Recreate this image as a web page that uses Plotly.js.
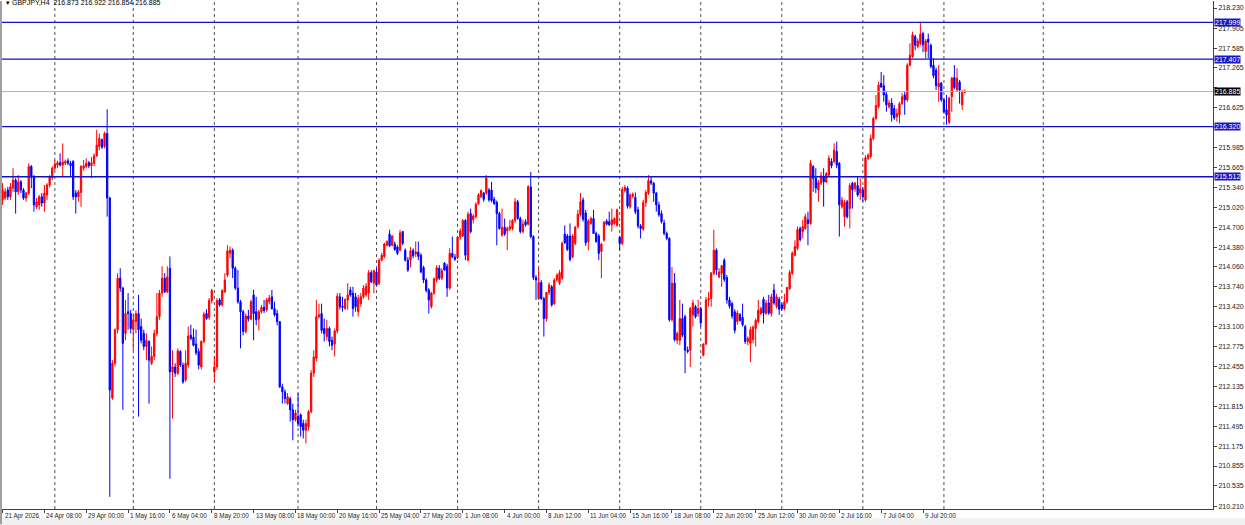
<!DOCTYPE html>
<html><head><meta charset="utf-8">
<script src="https://cdn.plot.ly/plotly-3.0.1.min.js"></script>
<style>html,body{margin:0;padding:0;background:#fff;}#chart{width:1245px;height:525px;}</style>
</head><body><div id="chart"></div>
<script>
const symbolTitle = "GBPJPY,H4";
const lastQuote = [216.873, 216.922, 216.854, 216.885];

const open = [
215.14,215.17,215.30,215.19,215.33,215.46,215.27,215.43,215.30,215.17,
215.25,215.68,215.51,215.03,215.06,215.19,215.09,215.22,215.38,215.50,
215.65,215.70,215.74,215.70,215.73,215.77,215.73,215.76,215.25,215.19,
215.26,215.65,215.68,215.74,215.69,215.73,215.85,216.00,216.11,216.00,
216.21,215.17,211.95,212.51,213.05,213.88,213.72,212.99,213.34,213.31,
213.05,213.18,213.31,213.10,212.99,212.78,212.86,212.51,212.62,212.99,
213.26,213.64,213.88,213.66,214.04,212.37,212.45,212.35,212.70,212.48,
212.24,212.48,212.96,212.93,212.82,212.70,212.45,212.86,213.31,213.25,
213.52,212.37,212.45,213.53,213.45,213.66,213.93,214.28,214.33,214.04,
213.72,213.50,213.34,213.02,213.27,213.22,213.61,213.34,213.22,213.34,
213.41,213.37,213.50,213.58,213.39,213.31,213.18,212.13,212.05,211.86,
211.94,211.76,211.60,211.65,211.68,211.54,211.43,211.49,211.73,212.35,
212.59,213.26,213.31,213.07,212.94,213.07,212.88,212.82,213.03,213.58,
213.43,213.39,213.53,213.69,213.64,213.58,213.34,213.47,213.58,213.61,
213.64,213.97,213.80,213.98,213.80,214.17,214.23,214.41,214.59,214.41,
214.43,214.38,214.33,214.63,214.33,214.17,214.17,214.33,214.27,214.30,
214.25,214.05,213.85,213.69,213.42,213.64,213.85,214.04,213.88,214.12,
214.07,213.72,214.28,214.22,214.21,214.54,214.56,214.81,214.17,214.92,
214.82,214.87,215.08,215.19,215.25,215.25,215.30,215.30,215.15,215.10,
214.92,214.57,214.70,214.64,214.67,214.68,214.81,215.11,214.84,214.63,
214.79,214.75,215.35,214.55,213.89,213.55,213.81,213.55,213.23,213.65,
213.74,213.47,213.85,213.80,213.88,214.59,214.56,214.56,214.22,214.44,
214.71,214.90,215.14,214.93,214.47,214.76,214.84,214.60,214.56,214.31,
214.49,214.80,214.79,214.74,214.76,214.73,214.54,214.44,215.29,215.33,
215.03,215.20,215.18,214.98,214.72,214.67,215.10,215.25,215.45,215.41,
215.25,215.06,214.92,214.77,214.60,214.52,213.21,213.80,212.88,212.88,
213.23,213.26,212.72,212.72,213.29,213.42,213.31,213.39,212.64,212.82,
213.53,213.55,213.96,214.33,213.90,213.96,214.17,213.89,213.53,213.47,
213.34,213.18,213.29,213.25,213.10,212.86,212.83,212.89,213.07,213.18,
213.31,213.54,213.31,213.48,213.31,213.69,213.42,213.54,213.45,213.39,
213.50,213.71,213.96,214.25,214.36,214.68,214.63,214.68,214.82,214.76,
215.68,215.49,215.30,215.41,215.51,215.43,215.54,215.76,215.76,215.92,
215.73,215.03,214.87,215.11,215.00,215.41,215.32,215.37,215.25,215.30,
215.14,215.81,215.84,216.13,216.45,216.64,217.02,216.98,216.84,216.64,
216.70,216.61,216.48,216.51,216.69,216.83,216.75,217.31,217.45,217.77,
217.61,217.66,217.82,217.53,217.73,217.63,217.31,217.23,216.96,217.02,
216.75,216.59,216.39,216.80,217.11,216.91,217.04,216.67,216.873];

const high = [
215.41,215.33,215.35,215.41,215.65,215.49,215.54,215.46,215.33,215.27,
215.73,215.70,215.54,215.17,215.22,215.25,215.38,215.41,215.54,215.68,
215.78,215.77,215.89,216.05,215.79,215.81,215.77,215.78,215.30,215.30,
215.70,215.78,215.81,215.77,215.83,215.89,216.27,216.21,216.13,216.24,
216.60,215.19,212.56,213.07,213.96,214.04,213.74,213.53,213.64,213.37,
213.31,213.36,213.61,213.23,213.05,212.99,212.88,212.78,213.05,213.64,
213.69,214.07,213.96,214.07,214.23,212.72,212.51,212.75,212.72,212.52,
212.72,213.10,213.13,213.07,213.05,212.75,212.88,213.34,213.38,213.56,
213.71,212.62,213.56,213.56,213.70,213.96,214.41,214.39,214.36,214.07,
214.01,213.53,213.37,213.31,213.37,213.53,213.69,213.58,213.37,213.45,
213.53,213.56,213.61,213.69,213.50,213.37,213.19,212.18,212.09,212.03,
211.97,211.86,211.76,212.03,211.70,211.60,211.60,211.76,212.40,212.72,
213.53,213.47,213.47,213.23,213.21,213.10,212.94,213.07,213.64,213.64,
213.58,213.55,213.80,213.74,213.74,213.64,213.61,213.64,213.77,213.80,
214.01,214.01,214.02,214.04,214.20,214.29,214.45,214.49,214.66,214.57,
214.47,214.41,214.66,214.64,214.36,214.22,214.38,214.36,214.47,214.47,
214.28,214.08,213.88,213.72,213.66,213.89,214.09,214.09,214.04,214.14,
214.11,214.36,214.55,214.27,214.56,214.68,214.83,214.83,214.95,215.00,
214.91,215.10,215.25,215.31,215.27,215.54,215.33,215.43,215.19,215.13,
214.95,215.00,214.84,214.71,214.82,214.83,215.17,215.14,214.87,214.82,
214.83,215.38,215.59,214.57,213.93,214.04,213.85,213.58,213.66,213.81,
213.77,213.88,213.96,214.01,214.47,214.73,214.59,214.76,214.59,214.72,
214.98,215.25,215.18,214.98,214.83,214.87,214.98,214.63,214.59,214.45,
214.80,214.83,214.95,215.00,214.86,215.00,214.56,215.35,215.38,215.36,
215.25,215.26,215.26,215.03,214.75,215.14,215.30,215.54,215.51,215.43,
215.27,215.11,214.97,214.82,214.63,214.54,214.06,213.96,213.02,213.53,
213.47,213.29,212.78,213.42,213.53,213.45,213.53,213.42,212.83,213.58,
213.66,213.98,214.66,214.36,214.04,214.09,214.20,213.93,213.58,213.50,
213.38,213.36,213.32,213.47,213.13,212.94,213.10,213.12,213.23,213.53,
213.42,213.58,213.53,213.61,213.63,213.79,213.63,213.58,213.48,213.63,
213.74,214.01,214.31,214.49,214.71,214.71,214.82,214.92,214.95,215.78,
215.70,215.65,215.46,215.59,215.65,215.59,215.86,215.81,216.05,216.08,
215.75,215.19,215.14,215.14,215.41,215.43,215.43,215.51,215.49,215.35,
215.86,215.89,216.19,216.48,216.83,217.04,217.20,217.15,216.88,216.75,
216.78,216.67,216.61,216.72,216.86,216.88,217.34,217.66,217.85,217.80,
217.74,218.01,217.85,217.73,217.82,217.66,217.42,217.27,217.31,217.04,
216.78,216.83,216.80,217.12,217.31,217.26,217.07,216.91,216.922];

const low = [
215.06,215.14,215.14,215.14,215.27,214.92,215.22,215.25,215.14,215.11,
215.22,215.33,214.95,214.99,214.98,215.03,214.95,215.14,215.34,215.46,
215.62,215.65,215.68,215.51,215.70,215.70,215.51,215.14,214.92,215.11,
215.03,215.61,215.65,215.65,215.49,215.68,215.83,215.94,215.96,215.97,
214.87,210.36,211.92,212.46,212.99,213.66,211.76,212.88,213.05,212.99,
212.72,212.99,211.65,212.83,212.72,212.56,211.86,212.48,212.56,212.94,
213.21,213.58,213.64,213.64,210.65,211.62,212.29,212.32,212.45,212.18,
212.21,212.44,212.88,212.78,212.64,212.41,212.41,212.83,213.21,213.21,
213.47,212.21,212.40,213.42,213.42,213.64,213.90,214.20,213.88,213.69,
213.47,212.75,212.96,212.99,213.18,213.20,212.88,213.12,213.04,213.31,
213.32,213.34,213.46,213.37,213.26,213.12,212.11,211.86,211.86,211.84,
211.57,211.27,211.57,211.49,211.33,211.30,211.22,211.43,211.70,212.29,
212.54,213.23,212.99,212.86,212.88,212.78,212.72,212.62,212.99,213.37,
213.34,213.37,213.37,213.58,213.26,213.34,213.26,213.42,213.55,213.58,
213.53,213.80,213.64,213.77,213.77,214.15,214.20,214.39,214.38,214.39,
214.32,214.25,214.31,214.41,214.15,213.98,214.05,214.20,214.22,214.17,
213.96,213.80,213.65,213.31,213.39,213.61,213.81,213.85,213.85,214.00,
213.58,213.69,214.20,214.16,214.19,214.50,214.54,214.17,214.15,214.60,
214.76,214.84,215.06,215.17,215.11,215.22,215.11,215.10,215.06,214.41,
214.66,214.55,214.56,214.33,214.64,214.65,214.77,214.82,214.60,214.60,
214.71,214.73,214.52,213.85,213.53,213.53,213.53,212.94,213.18,213.61,
213.42,213.45,213.82,213.77,213.85,214.43,214.32,214.15,214.20,214.41,
214.68,214.87,214.79,214.40,214.33,214.74,214.60,214.45,214.17,213.88,
214.47,214.73,214.72,214.63,214.74,214.71,214.33,214.41,215.26,215.00,
215.00,215.17,214.91,214.68,214.52,214.64,215.03,215.22,215.38,215.11,
214.95,214.87,214.76,214.57,214.49,213.18,213.18,212.86,212.82,212.80,
212.93,212.35,212.67,212.45,213.10,213.23,213.26,213.10,212.62,212.80,
213.42,213.42,213.93,213.93,213.88,213.74,213.82,213.47,213.39,213.23,
212.99,213.13,213.18,213.10,212.82,212.80,212.53,212.83,212.78,213.15,
213.29,213.15,213.29,213.29,213.26,213.45,213.39,213.29,213.36,213.36,
213.47,213.69,213.93,214.23,214.33,214.47,214.52,214.66,214.41,214.74,
215.27,215.25,215.11,215.38,215.03,215.41,215.51,215.65,215.73,215.65,
214.55,215.00,214.71,214.84,214.68,215.00,215.27,215.19,215.14,215.11,
215.11,215.78,215.81,216.10,216.43,216.61,216.94,216.72,216.56,216.61,
216.40,216.43,216.40,216.37,216.67,216.51,216.72,217.29,217.42,217.55,
217.58,217.63,217.52,217.42,217.42,217.26,217.10,216.91,216.72,216.72,
216.53,216.35,216.36,216.56,216.92,216.88,216.69,216.59,216.854];

const close = [
215.30,215.27,215.19,215.35,215.46,215.27,215.43,215.30,215.17,215.25,
215.68,215.51,215.06,215.11,215.19,215.09,215.25,215.38,215.51,215.65,
215.72,215.74,215.70,215.75,215.76,215.73,215.69,215.19,215.19,215.27,
215.68,215.69,215.73,215.69,215.74,215.85,216.02,216.13,215.99,216.21,
215.17,212.08,212.51,213.05,213.88,213.72,212.83,213.31,213.31,213.07,
213.21,213.31,213.05,212.88,212.78,212.88,212.56,212.62,212.99,213.26,
213.64,213.88,213.66,213.90,212.37,212.45,212.35,212.71,212.48,212.21,
212.51,212.95,212.91,212.80,212.68,212.48,212.86,213.30,213.23,213.52,
213.68,212.45,213.52,213.45,213.68,213.85,214.32,214.33,214.04,213.72,
213.50,213.34,213.02,213.27,213.22,213.50,213.31,213.21,213.34,213.41,
213.36,213.53,213.56,213.39,213.29,213.18,212.13,212.05,211.94,211.97,
211.76,211.60,211.71,211.54,211.49,211.43,211.54,211.73,212.35,212.61,
213.26,213.29,213.04,212.99,213.07,212.86,212.80,213.03,213.59,213.42,
213.41,213.54,213.61,213.61,213.39,213.42,213.55,213.58,213.72,213.75,
213.97,213.82,214.00,213.77,214.17,214.25,214.43,214.47,214.40,214.56,
214.34,214.28,214.61,214.44,214.17,214.01,214.32,214.24,214.30,214.23,
213.98,213.85,213.68,213.53,213.64,213.87,214.05,213.88,214.00,214.01,
213.72,214.28,214.22,214.18,214.54,214.64,214.81,214.25,214.91,214.63,
214.88,215.07,215.22,215.29,215.15,215.49,215.14,215.13,215.08,214.92,
214.68,214.70,214.59,214.68,214.71,214.81,215.11,214.84,214.63,214.75,
214.74,215.35,214.55,213.89,213.85,213.81,213.55,213.23,213.65,213.77,
213.45,213.85,213.93,213.97,214.44,214.45,214.34,214.18,214.56,214.70,
214.91,215.11,214.83,214.45,214.80,214.84,214.60,214.47,214.28,214.43,
214.78,214.75,214.74,214.82,214.84,214.98,214.44,215.31,215.34,215.04,
215.22,215.23,214.95,214.72,214.68,215.10,215.26,215.45,215.41,215.25,
215.06,214.90,214.79,214.60,214.52,213.21,213.80,212.89,212.99,213.23,
212.96,212.72,212.70,213.39,213.48,213.26,213.39,213.16,212.82,213.53,
213.55,213.96,214.33,214.01,213.98,214.08,213.86,213.53,213.43,213.27,
213.04,213.32,213.20,213.13,212.86,212.91,213.05,213.09,213.20,213.36,
213.39,213.32,213.48,213.32,213.58,213.48,213.58,213.38,213.39,213.50,
213.73,213.97,214.28,214.39,214.66,214.50,214.71,214.87,214.76,215.73,
215.49,215.33,215.42,215.53,215.43,215.56,215.81,215.69,215.94,215.70,
215.06,215.14,215.10,214.87,215.37,215.30,215.41,215.22,215.32,215.19,
215.82,215.86,216.13,216.45,216.66,216.99,216.96,216.83,216.67,216.70,
216.51,216.46,216.53,216.69,216.80,216.75,217.31,217.47,217.80,217.63,
217.70,217.81,217.64,217.70,217.68,217.29,217.14,216.98,217.02,216.75,
216.56,216.51,216.78,217.10,216.95,217.10,216.91,216.87,216.885];

const labelBars = [0,16,32,48,64,80,96,112,128,144,160,176,192,208,224,240,256,272,288,304,320,336,352];
const labelText = ["21 Apr 2026","24 Apr 08:00","29 Apr 00:00","1 May 16:00","6 May 04:00","8 May 20:00",
  "13 May 08:00","18 May 00:00","20 May 16:00","25 May 04:00","27 May 20:00","1 Jun 08:00","4 Jun 00:00",
  "8 Jun 12:00","11 Jun 04:00","15 Jun 16:00","18 Jun 08:00","22 Jun 20:00","25 Jun 12:00","30 Jun 00:00",
  "2 Jul 16:00","7 Jul 04:00","9 Jul 20:00"];
const weekBars = [20,50,81,113,143,174,205,236,267,298,329,360,398];
const levels = [217.999, 217.407, 216.320, 215.512];
const currentPrice = 216.885;
const yTicks = [218.230,217.905,217.585,217.265,216.945,216.625,216.305,215.985,215.665,215.340,215.020,
  214.700,214.380,214.060,213.740,213.420,213.100,212.775,212.455,212.135,211.815,211.495,211.175,210.855,210.535,210.210];
// tick labels that sit under a price box in the reference
const hiddenTicks = [216.945, 216.305];

if (![high.length, low.length, close.length].every(n => n === open.length)) {
  throw new Error('length mismatch ' + [open.length, high.length, low.length, close.length].join(','));
}
const bars = open.map((_, i) => i);
const FONT = 'Liberation Sans, Arial, sans-serif';

const trace = {
  type: 'candlestick', x: bars, open: open, high: high, low: low, close: close,
  increasing: {line: {color: '#ff0000', width: 1}, fillcolor: '#ff0000'},
  decreasing: {line: {color: '#0000ff', width: 1}, fillcolor: '#0000ff'},
  whiskerwidth: 0, hoverinfo: 'none', showlegend: false
};

const shapes = [];
weekBars.forEach(b => shapes.push({type: 'line', xref: 'x', yref: 'paper', x0: b, x1: b, y0: 0, y1: 1,
  line: {color: '#505050', width: 1, dash: 'dot'}, layer: 'below'}));
levels.forEach(v => shapes.push({type: 'line', xref: 'paper', yref: 'y', x0: 0, x1: 1, y0: v, y1: v,
  line: {color: '#1010c8', width: 1.4}}));
shapes.push({type: 'line', xref: 'paper', yref: 'y', x0: 0, x1: 1, y0: currentPrice, y1: currentPrice,
  line: {color: '#a9b4bc', width: 1}});
shapes.push({type: 'line', xref: 'paper', yref: 'paper', x0: 0, x1: 0, y0: -0.03, y1: 1,
  line: {color: '#a0a0a0', width: 2}});
shapes.push({type: 'rect', xref: 'paper', yref: 'paper', x0: -0.01, x1: 1.03, y0: -0.04, y1: -0.018,
  fillcolor: '#f0f0f0', line: {width: 0}, layer: 'below'});

const annotations = [];
labelBars.forEach((b, k) => annotations.push({x: b, xref: 'x', y: 0, yref: 'paper', yanchor: 'top', xanchor: 'left',
  xshift: 0, yshift: -1, text: labelText[k], showarrow: false, font: {family: FONT, size: 6.3, color: '#222'}}));
levels.forEach(v => annotations.push({x: 1, xref: 'paper', xanchor: 'left', xshift: 1, y: v, yref: 'y',
  text: v.toFixed(3), showarrow: false, bgcolor: '#1818c0', borderpad: 0,
  font: {family: FONT, size: 7, color: '#ffffff'}}));
annotations.push({x: 1, xref: 'paper', xanchor: 'left', xshift: 1, y: currentPrice, yref: 'y',
  text: currentPrice.toFixed(3), showarrow: false, bgcolor: '#000000', borderpad: 0,
  font: {family: FONT, size: 7, color: '#ffffff'}});
annotations.push({x: 0, xref: 'paper', xanchor: 'left', xshift: 3, y: 1, yref: 'paper', yanchor: 'top', yshift: 4,
  text: '\u25BE ' + symbolTitle + '  ' + lastQuote.map(v => v.toFixed(3)).join(' '),
  showarrow: false, font: {family: FONT, size: 7, color: '#000'}});

const layout = {
  width: 1245, height: 525,
  margin: {l: 1, r: 32, t: 1, b: 16, pad: 0},
  paper_bgcolor: '#ffffff', plot_bgcolor: '#ffffff',
  showlegend: false,
  xaxis: {type: 'linear', range: [-0.6, 462.9], showgrid: false, zeroline: false, showline: true,
    linecolor: '#404040', linewidth: 1, tickvals: labelBars, ticks: 'outside', ticklen: 3, tickcolor: '#404040',
    showticklabels: false, rangeslider: {visible: false}, fixedrange: true},
  yaxis: {side: 'right', range: [210.163, 218.343], tickvals: yTicks,
    ticktext: yTicks.map(v => hiddenTicks.includes(v) ? '' : v.toFixed(3)),
    ticks: 'outside', ticklen: 3, tickcolor: '#404040', tickfont: {family: FONT, size: 7, color: '#222'},
    showline: true, linecolor: '#404040', linewidth: 1, showgrid: false, zeroline: false, fixedrange: true},
  shapes: shapes, annotations: annotations
};

Plotly.newPlot('chart', [trace], layout, {staticPlot: true, displayModeBar: false});
</script>
</body></html>
